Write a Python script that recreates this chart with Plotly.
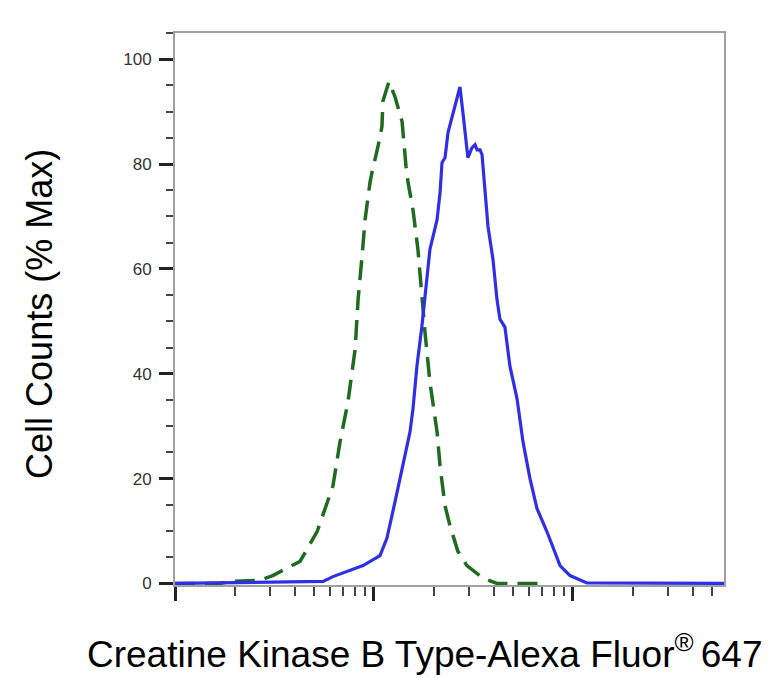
import plotly.graph_objects as go

# fluorescence intensity (log axis) and % max counts
ctrl_x = [100, 168, 195, 267, 310, 425, 518, 622, 675, 740, 804, 832, 871, 902,
          955, 977, 1047, 1096, 1109, 1189, 1276, 1384, 1449, 1483, 1570, 1663,
          1803, 1910, 2075, 2148, 2275, 2410, 2642, 2931, 3532, 4150, 7228]
ctrl_y = [0, 0, 0.4, 0.6, 1.5, 4.2, 9.9, 18.6, 27, 34.6, 44.7, 54.2, 62.4, 69.4,
          76.5, 78.4, 83.3, 87.1, 92, 95.7, 92.8, 88.1, 79.5, 76.5, 71.3, 63.7,
          48.1, 38.4, 28.9, 22.4, 14.8, 11, 6.1, 3.4, 1, 0, 0]

ckb_x = [100, 378, 555, 622, 757, 881, 1072, 1161, 1276, 1400, 1517, 1570, 1644,
         1742, 1803, 1910, 2075, 2148, 2198, 2275, 2355, 2466, 2553, 2704, 2799,
         2864, 2931, 2965, 3105, 3221, 3296, 3412, 3491, 3614, 3741, 3963, 4150,
         4295, 4550, 4819, 5236, 5610, 6081, 6592, 7396, 8610, 9661, 11749, 58000]
ckb_y = [0, 0.4, 0.4, 1.3, 2.5, 3.4, 5.3, 8.6, 15.6, 22.4, 28.9, 33.3, 41.5,
         49.1, 54.2, 63.7, 69.4, 74.6, 80.3, 81.2, 86, 89, 90.9, 94.7, 89.8,
         86, 82.2, 81.2, 83.1, 83.7, 82.7, 82.7, 81.8, 74.6, 68.1, 61.8, 54.2,
         50.4, 48.9, 41.5, 35.2, 27, 20, 14.3, 9.9, 3.4, 1.5, 0.1, 0]

y_ticks = [0, 20, 40, 60, 80, 100]

fig = go.Figure()

# isotype control - dashed green
fig.add_trace(go.Scatter(
    x=ctrl_x, y=ctrl_y, mode="lines",
    line=dict(color="#1f6b1f", width=3.5, dash="20px,10px"),
    showlegend=False,
))

# CKB stained - solid blue
fig.add_trace(go.Scatter(
    x=ckb_x, y=ckb_y, mode="lines",
    line=dict(color="#2f2fe6", width=3.2),
    showlegend=False,
))

axis_font = dict(family="Liberation Sans, Arial", size=17, color="#333")
title_font = dict(family="Liberation Sans, Arial", size=37, color="black")

# page body has an 8px margin, so the figure sits 8px in from the corner
fig.update_layout(
    width=767, height=670,
    margin=dict(l=167, r=51, t=25, b=93),
    plot_bgcolor="white", paper_bgcolor="white",
    xaxis=dict(
        type="log", range=[2, 4.759],
        showline=True, linecolor="#a0a0a0", linewidth=2, mirror=True,
        showgrid=False, zeroline=False,
        dtick=1, ticks="outside", ticklen=14, tickwidth=3, tickcolor="#222",
        showticklabels=False,
        minor=dict(ticks="outside", ticklen=9, tickwidth=2, tickcolor="#444",
                   dtick="D1", showgrid=False),
        layer="below traces",
    ),
    yaxis=dict(
        range=[-0.3, 105],
        showline=True, linecolor="#a0a0a0", linewidth=2, mirror=True,
        showgrid=False, zeroline=False,
        tickvals=y_ticks, ticks="outside", ticklen=14, tickwidth=3,
        tickcolor="#222", tickfont=axis_font, ticklabelstandoff=4,
        minor=dict(ticks="outside", ticklen=7, tickwidth=2, tickcolor="#444",
                   dtick=5, tick0=0, showgrid=False),
        layer="below traces",
    ),
    annotations=[
        dict(text="Cell Counts (% Max)", xref="paper", yref="paper",
             x=-0.246, y=0.491, textangle=-90, showarrow=False,
             xanchor="center", yanchor="middle",
             font=dict(family="Liberation Sans, Arial", size=36, color="black")),
        dict(text="Creatine Kinase B Type-Alexa Fluor<sup>® </sup>647",
             xref="paper", yref="paper", x=0.4545, y=-0.12, showarrow=False,
             xanchor="center", yanchor="middle", font=title_font),
    ],
)

fig.write_html("out.html")
